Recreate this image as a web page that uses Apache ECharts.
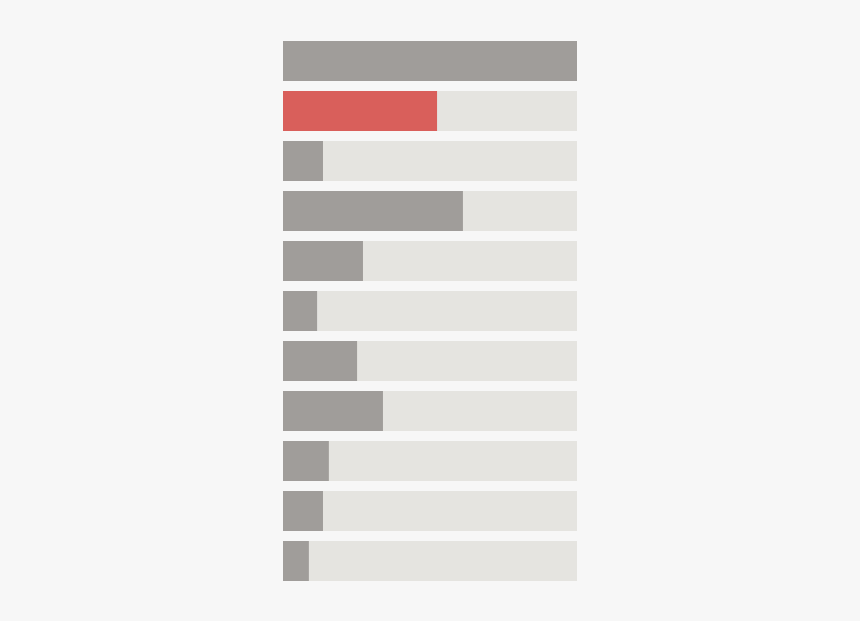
<!DOCTYPE html>
<html>
<head>
<meta charset="utf-8">
<script src="https://cdn.jsdelivr.net/npm/echarts@6/dist/echarts.min.js"></script>
<style>
html,body{margin:0;padding:0;background:#f7f7f7;}
#main{width:860px;height:621px;}
</style>
</head>
<body>
<div id="main"></div>
<script>
const categories = ['A','B','C','D','E','F','G','H','I','J','K'];
const values = [100, 52.4, 13.6, 61.2, 27.2, 11.6, 25.2, 34.0, 15.6, 13.6, 8.8];
const highlightIndex = 1;

const chart = echarts.init(document.getElementById('main'));
chart.setOption({
  backgroundColor: '#f7f7f7',
  animation: false,
  grid: { left: 283, width: 294, top: 36, height: 550, containLabel: false },
  xAxis: { type: 'value', min: 0, max: 100, show: false },
  yAxis: { type: 'category', data: categories, inverse: true, show: false },
  series: [{
    type: 'bar',
    barWidth: 40,
    showBackground: true,
    backgroundStyle: { color: '#e5e4e0' },
    data: values.map((v, i) => ({
      value: v,
      itemStyle: { color: i === highlightIndex ? '#d95f5b' : '#a09d9a' }
    }))
  }]
});
</script>
</body>
</html>
